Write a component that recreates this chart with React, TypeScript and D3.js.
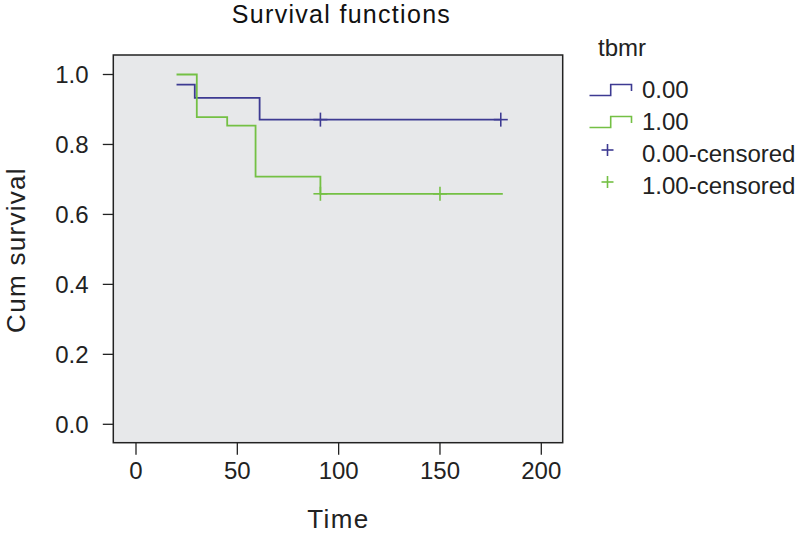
import React from "react";
import * as d3 from "d3";

const title = "Survival functions";
const xLabel = "Time";
const yLabel = "Cum survival";
const legendTitle = "tbmr";
const xTicks = [0, 50, 100, 150, 200];
const yTicks = [0, 0.2, 0.4, 0.6, 0.8, 1.0];

const group0Times = [20, 29, 61, 180];
const group0Surv = [0.971, 0.933, 0.871, 0.871];
const group0Censored = [91, 180];
const group0CensoredSurv = [0.871, 0.871];

const group1Times = [20, 30, 45, 59, 91, 181];
const group1Surv = [1.0, 0.878, 0.854, 0.708, 0.659, 0.659];
const group1Censored = [91, 150];
const group1CensoredSurv = [0.659, 0.659];

const legendLabels = ["0.00", "1.00", "0.00-censored", "1.00-censored"];
const colors = ["#3d3a92", "#74c044"];

export default function App() {
  const W = 800, H = 534;
  const left = 113.3, right = 562.7, top = 55, bottom = 442.7;
  const x = d3.scaleLinear().domain([0, 200]).range([136, 541.3]);
  const y = d3.scaleLinear().domain([0, 1]).range([424.3, 74.5]);
  const font = "'Liberation Sans', Arial, Helvetica, sans-serif";

  const stepLine = d3
    .line<[number, number]>()
    .x((d) => x(d[0]))
    .y((d) => y(d[1]))
    .curve(d3.curveStepAfter);

  const series = [
    { t: group0Times, s: group0Surv, ct: group0Censored, cs: group0CensoredSurv },
    { t: group1Times, s: group1Surv, ct: group1Censored, cs: group1CensoredSurv },
  ];

  const plus = (cx: number, cy: number, r: number, color: string, key: string) => (
    <g key={key} stroke={color} strokeWidth={1.6}>
      <line x1={cx - r} x2={cx + r} y1={cy} y2={cy} />
      <line x1={cx} x2={cx} y1={cy - r} y2={cy + r} />
    </g>
  );

  const legendRows = [89.5, 121.5, 153, 185];

  return (
    <svg width={W} height={H} style={{ position: "absolute", left: 0, top: 0, background: "#fff" }}>
      <rect x={0} y={0} width={W} height={H} fill="#fff" />
      <text x={341.5} y={23} fontSize={25} letterSpacing={1.3} fontFamily={font} textAnchor="middle" fill="#111">
        {title}
      </text>
      <rect x={left} y={top} width={right - left} height={bottom - top} fill="#e7e8ea" stroke="#222" strokeWidth={1.5} />

      {series.map((sr, i) => (
        <g key={"s" + i}>
          <path
            d={stepLine(sr.t.map((t, j) => [t, sr.s[j]] as [number, number])) || ""}
            fill="none"
            stroke={colors[i]}
            strokeWidth={1.8}
          />
          {sr.ct.map((t, j) => plus(x(t), y(sr.cs[j]), 7, colors[i], "c" + i + j))}
        </g>
      ))}

      {yTicks.map((v) => (
        <g key={"y" + v}>
          <line x1={left - 10.5} x2={left} y1={y(v)} y2={y(v)} stroke="#222" strokeWidth={1.3} />
          <text x={88.5} y={y(v) + 8.5} fontSize={24} fontFamily={font} textAnchor="end" fill="#222">
            {v.toFixed(1)}
          </text>
        </g>
      ))}
      {xTicks.map((v) => (
        <g key={"x" + v}>
          <line x1={x(v)} x2={x(v)} y1={bottom} y2={bottom + 12} stroke="#222" strokeWidth={1.3} />
          <text x={x(v)} y={479} fontSize={24} fontFamily={font} textAnchor="middle" fill="#222">
            {v}
          </text>
        </g>
      ))}

      <text x={338.5} y={527.5} fontSize={26} letterSpacing={1.4} fontFamily={font} textAnchor="middle" fill="#222">
        {xLabel}
      </text>
      <text
        transform={`translate(24.5,250) rotate(-90)`}
        fontSize={26}
        letterSpacing={1.3}
        fontFamily={font}
        textAnchor="middle"
        fill="#222"
      >
        {yLabel}
      </text>

      <text x={598} y={56} fontSize={24} fontFamily={font} fill="#222">
        {legendTitle}
      </text>
      {legendLabels.map((lab, i) => {
        const cy = legendRows[i];
        const c = colors[i % 2];
        return (
          <g key={"l" + i}>
            {i < 2 ? (
              <path
                d={`M589.5,${cy + 6} H610.7 V${cy - 5} H631.5 V${cy + 1.5}`}
                fill="none"
                stroke={c}
                strokeWidth={1.6}
              />
            ) : (
              plus(607.5, cy - 3, 6, c, "lp" + i)
            )}
            <text x={642} y={cy + 8.5} fontSize={24} fontFamily={font} fill="#222">
              {lab}
            </text>
          </g>
        );
      })}
    </svg>
  );
}
